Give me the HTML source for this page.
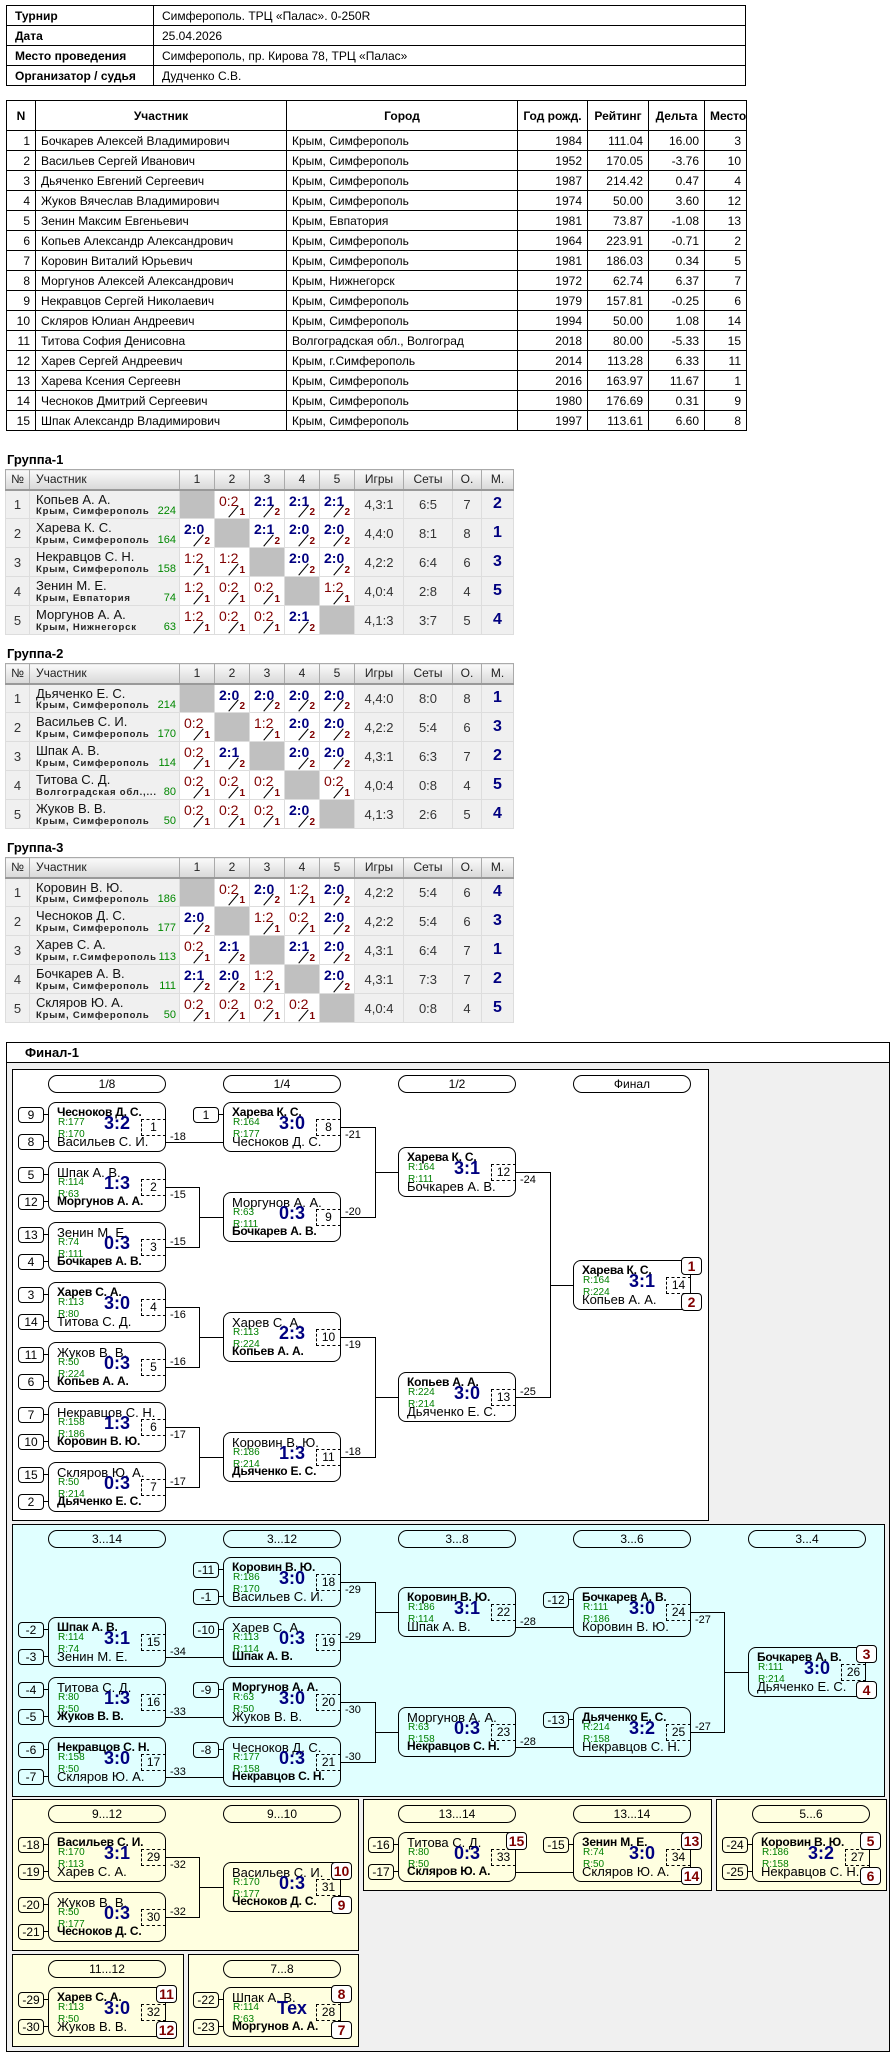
<!DOCTYPE html>
<html><head><meta charset="utf-8"><style>
*{box-sizing:border-box;margin:0;padding:0}
body{width:895px;height:2057px;position:relative;background:#fff;font-family:"Liberation Sans",sans-serif;color:#000;overflow:hidden}
table{border-collapse:collapse;position:absolute;table-layout:fixed}
.t1 td{border:1px solid #000;height:20px;font-size:12px;padding:0 8px;white-space:nowrap}
.t1 td:first-child{font-weight:bold;padding-left:8px}
.t2 td{border:1px solid #000;height:20px;font-size:12px;padding:0 5px;white-space:nowrap;overflow:hidden}
.t2 tr:first-child td{height:30px;font-weight:bold;text-align:center}
.t2 .rr{text-align:right}
.gt{position:absolute;left:7px;font:bold 13px "Liberation Sans",sans-serif}
.g{border:1px solid #999}
.g th{height:20px;font-weight:normal;font-size:12px;background:linear-gradient(#fafafa,#d8d8d8);border:1px solid #aaa;border-bottom:2px solid #999;text-align:center;color:#222}
.g td{height:29px;border:1px solid #ddd;background:#f0f0f0;font-size:13px;text-align:center;color:#333;position:relative}
.g td.nm{text-align:left;padding:0 0 0 6px;vertical-align:top}
.nm .n{display:block;font-size:13px;margin-top:1px;color:#111}
.nm .ct{position:absolute;left:6px;bottom:1px;font-size:9.5px;font-weight:bold;letter-spacing:0.8px;color:#222}
.nm .rt{position:absolute;right:3px;bottom:1px;font-size:11px;color:#080}
.g td.c{background:#fff;text-align:left;vertical-align:top}
.g td.x{background:#c0c0c0}
.c span{position:absolute;left:4px;top:2px;font-size:14px}
.c .W{color:#000080;font-weight:bold}
.c .L{color:#800000}
.c i{position:absolute;right:4px;bottom:0;font-style:normal;font-weight:bold;font-size:10px;color:#800000}
.c i::before{content:"";position:absolute;left:-13px;bottom:6px;width:15px;border-top:1px solid #000;transform:rotate(-50deg)}
.g td.pl{font-weight:bold;color:#000080;font-size:16px}
.box{position:absolute;border:1px solid #000}
.p{position:absolute;width:118px;height:18px;border:1px solid #000;border-radius:9px;text-align:center;font-size:12px;line-height:16px;background:transparent}
.m{position:absolute;width:118px;height:50px;border:1px solid #000;border-radius:8px;font-size:13px}
.m div{position:absolute;white-space:nowrap}
.m .a{left:8px;top:2px}
.m .b{left:8px;top:31px}
.m .w{font-weight:bold;font-size:12px;letter-spacing:-0.2px}
.m .r1,.m .r2{left:9px;font-size:10px;color:#008000}
.m .r1{top:14px}.m .r2{top:26px}
.m .s{left:52px;top:10px;width:32px;text-align:center;font:bold 18px "Liberation Sans",sans-serif;color:#000080}
.m .i{left:92px;top:16px;width:25px;height:17px;border:1px dashed #000;text-align:center;font-size:12px;line-height:15px}
.sd{position:absolute;width:26px;height:16px;border:1px solid #000;border-radius:4px;text-align:center;font-size:12px;line-height:14px;background:transparent}
.sd::after{content:"";position:absolute;right:-5px;top:6px;width:4px;border-top:1px solid #000}
.pc{position:absolute;width:21px;height:18px;border:1px solid #000;border-radius:4px;background:#fff;color:#800000;text-align:center;font:bold 14px "Liberation Sans",sans-serif;line-height:16px}
.l{position:absolute;font-size:11px}
</style></head><body>

<table class="t1" style="left:6px;top:5px;width:740px">
<col style="width:147px"><col>
<tr><td>Турнир</td><td>Симферополь. ТРЦ «Палас». 0-250R</td></tr>
<tr><td>Дата</td><td>25.04.2026</td></tr>
<tr><td>Место проведения</td><td>Симферополь, пр. Кирова 78, ТРЦ «Палас»</td></tr>
<tr><td>Организатор / судья</td><td>Дудченко С.В.</td></tr>
</table>

<table class="t2" style="left:6px;top:100px;width:740px">
<col style="width:29px"><col style="width:251px"><col style="width:231px"><col style="width:70px"><col style="width:61px"><col style="width:56px"><col style="width:42px">
<tr><td>N</td><td>Участник</td><td>Город</td><td>Год рожд.</td><td>Рейтинг</td><td>Дельта</td><td>Место</td></tr>
<tr><td class="rr">1</td><td>Бочкарев Алексей Владимирович</td><td>Крым, Симферополь</td><td class="rr">1984</td><td class="rr">111.04</td><td class="rr">16.00</td><td class="rr">3</td></tr>
<tr><td class="rr">2</td><td>Васильев Сергей Иванович</td><td>Крым, Симферополь</td><td class="rr">1952</td><td class="rr">170.05</td><td class="rr">-3.76</td><td class="rr">10</td></tr>
<tr><td class="rr">3</td><td>Дьяченко Евгений Сергеевич</td><td>Крым, Симферополь</td><td class="rr">1987</td><td class="rr">214.42</td><td class="rr">0.47</td><td class="rr">4</td></tr>
<tr><td class="rr">4</td><td>Жуков Вячеслав Владимирович</td><td>Крым, Симферополь</td><td class="rr">1974</td><td class="rr">50.00</td><td class="rr">3.60</td><td class="rr">12</td></tr>
<tr><td class="rr">5</td><td>Зенин Максим Евгеньевич</td><td>Крым, Евпатория</td><td class="rr">1981</td><td class="rr">73.87</td><td class="rr">-1.08</td><td class="rr">13</td></tr>
<tr><td class="rr">6</td><td>Копьев Александр Александрович</td><td>Крым, Симферополь</td><td class="rr">1964</td><td class="rr">223.91</td><td class="rr">-0.71</td><td class="rr">2</td></tr>
<tr><td class="rr">7</td><td>Коровин Виталий Юрьевич</td><td>Крым, Симферополь</td><td class="rr">1981</td><td class="rr">186.03</td><td class="rr">0.34</td><td class="rr">5</td></tr>
<tr><td class="rr">8</td><td>Моргунов Алексей Александрович</td><td>Крым, Нижнегорск</td><td class="rr">1972</td><td class="rr">62.74</td><td class="rr">6.37</td><td class="rr">7</td></tr>
<tr><td class="rr">9</td><td>Некравцов Сергей Николаевич</td><td>Крым, Симферополь</td><td class="rr">1979</td><td class="rr">157.81</td><td class="rr">-0.25</td><td class="rr">6</td></tr>
<tr><td class="rr">10</td><td>Скляров Юлиан Андреевич</td><td>Крым, Симферополь</td><td class="rr">1994</td><td class="rr">50.00</td><td class="rr">1.08</td><td class="rr">14</td></tr>
<tr><td class="rr">11</td><td>Титова София Денисовна</td><td>Волгоградская обл., Волгоград</td><td class="rr">2018</td><td class="rr">80.00</td><td class="rr">-5.33</td><td class="rr">15</td></tr>
<tr><td class="rr">12</td><td>Харев Сергей Андреевич</td><td>Крым, г.Симферополь</td><td class="rr">2014</td><td class="rr">113.28</td><td class="rr">6.33</td><td class="rr">11</td></tr>
<tr><td class="rr">13</td><td>Харева Ксения Сергеевн</td><td>Крым, Симферополь</td><td class="rr">2016</td><td class="rr">163.97</td><td class="rr">11.67</td><td class="rr">1</td></tr>
<tr><td class="rr">14</td><td>Чесноков Дмитрий Сергеевич</td><td>Крым, Симферополь</td><td class="rr">1980</td><td class="rr">176.69</td><td class="rr">0.31</td><td class="rr">9</td></tr>
<tr><td class="rr">15</td><td>Шпак Александр Владимирович</td><td>Крым, Симферополь</td><td class="rr">1997</td><td class="rr">113.61</td><td class="rr">6.60</td><td class="rr">8</td></tr>
</table>

<div class="gt" style="top:452px">Группа-1</div>
<table class="g" style="left:5px;top:469px;width:508px">
<col style="width:24px"><col style="width:150px"><col style="width:35px"><col style="width:35px"><col style="width:35px"><col style="width:35px"><col style="width:35px"><col style="width:49px"><col style="width:49px"><col style="width:29px"><col style="width:32px">
<tr><th>№</th><th style="text-align:left;padding-left:6px">Участник</th><th>1</th><th>2</th><th>3</th><th>4</th><th>5</th><th>Игры</th><th>Сеты</th><th>О.</th><th>М.</th></tr>
<tr><td>1</td><td class="nm"><span class="n">Копьев А. А.</span><span class="ct">Крым, Симферополь</span><span class="rt">224</span></td><td class="x"></td><td class="c"><span class="L">0:2</span><i>1</i></td><td class="c"><span class="W">2:1</span><i>2</i></td><td class="c"><span class="W">2:1</span><i>2</i></td><td class="c"><span class="W">2:1</span><i>2</i></td><td>4,3:1</td><td>6:5</td><td>7</td><td class="pl">2</td></tr>
<tr><td>2</td><td class="nm"><span class="n">Харева К. С.</span><span class="ct">Крым, Симферополь</span><span class="rt">164</span></td><td class="c"><span class="W">2:0</span><i>2</i></td><td class="x"></td><td class="c"><span class="W">2:1</span><i>2</i></td><td class="c"><span class="W">2:0</span><i>2</i></td><td class="c"><span class="W">2:0</span><i>2</i></td><td>4,4:0</td><td>8:1</td><td>8</td><td class="pl">1</td></tr>
<tr><td>3</td><td class="nm"><span class="n">Некравцов С. Н.</span><span class="ct">Крым, Симферополь</span><span class="rt">158</span></td><td class="c"><span class="L">1:2</span><i>1</i></td><td class="c"><span class="L">1:2</span><i>1</i></td><td class="x"></td><td class="c"><span class="W">2:0</span><i>2</i></td><td class="c"><span class="W">2:0</span><i>2</i></td><td>4,2:2</td><td>6:4</td><td>6</td><td class="pl">3</td></tr>
<tr><td>4</td><td class="nm"><span class="n">Зенин М. Е.</span><span class="ct">Крым, Евпатория</span><span class="rt">74</span></td><td class="c"><span class="L">1:2</span><i>1</i></td><td class="c"><span class="L">0:2</span><i>1</i></td><td class="c"><span class="L">0:2</span><i>1</i></td><td class="x"></td><td class="c"><span class="L">1:2</span><i>1</i></td><td>4,0:4</td><td>2:8</td><td>4</td><td class="pl">5</td></tr>
<tr><td>5</td><td class="nm"><span class="n">Моргунов А. А.</span><span class="ct">Крым, Нижнегорск</span><span class="rt">63</span></td><td class="c"><span class="L">1:2</span><i>1</i></td><td class="c"><span class="L">0:2</span><i>1</i></td><td class="c"><span class="L">0:2</span><i>1</i></td><td class="c"><span class="W">2:1</span><i>2</i></td><td class="x"></td><td>4,1:3</td><td>3:7</td><td>5</td><td class="pl">4</td></tr>
</table>

<div class="gt" style="top:646px">Группа-2</div>
<table class="g" style="left:5px;top:663px;width:508px">
<col style="width:24px"><col style="width:150px"><col style="width:35px"><col style="width:35px"><col style="width:35px"><col style="width:35px"><col style="width:35px"><col style="width:49px"><col style="width:49px"><col style="width:29px"><col style="width:32px">
<tr><th>№</th><th style="text-align:left;padding-left:6px">Участник</th><th>1</th><th>2</th><th>3</th><th>4</th><th>5</th><th>Игры</th><th>Сеты</th><th>О.</th><th>М.</th></tr>
<tr><td>1</td><td class="nm"><span class="n">Дьяченко Е. С.</span><span class="ct">Крым, Симферополь</span><span class="rt">214</span></td><td class="x"></td><td class="c"><span class="W">2:0</span><i>2</i></td><td class="c"><span class="W">2:0</span><i>2</i></td><td class="c"><span class="W">2:0</span><i>2</i></td><td class="c"><span class="W">2:0</span><i>2</i></td><td>4,4:0</td><td>8:0</td><td>8</td><td class="pl">1</td></tr>
<tr><td>2</td><td class="nm"><span class="n">Васильев С. И.</span><span class="ct">Крым, Симферополь</span><span class="rt">170</span></td><td class="c"><span class="L">0:2</span><i>1</i></td><td class="x"></td><td class="c"><span class="L">1:2</span><i>1</i></td><td class="c"><span class="W">2:0</span><i>2</i></td><td class="c"><span class="W">2:0</span><i>2</i></td><td>4,2:2</td><td>5:4</td><td>6</td><td class="pl">3</td></tr>
<tr><td>3</td><td class="nm"><span class="n">Шпак А. В.</span><span class="ct">Крым, Симферополь</span><span class="rt">114</span></td><td class="c"><span class="L">0:2</span><i>1</i></td><td class="c"><span class="W">2:1</span><i>2</i></td><td class="x"></td><td class="c"><span class="W">2:0</span><i>2</i></td><td class="c"><span class="W">2:0</span><i>2</i></td><td>4,3:1</td><td>6:3</td><td>7</td><td class="pl">2</td></tr>
<tr><td>4</td><td class="nm"><span class="n">Титова С. Д.</span><span class="ct">Волгоградская обл.,...</span><span class="rt">80</span></td><td class="c"><span class="L">0:2</span><i>1</i></td><td class="c"><span class="L">0:2</span><i>1</i></td><td class="c"><span class="L">0:2</span><i>1</i></td><td class="x"></td><td class="c"><span class="L">0:2</span><i>1</i></td><td>4,0:4</td><td>0:8</td><td>4</td><td class="pl">5</td></tr>
<tr><td>5</td><td class="nm"><span class="n">Жуков В. В.</span><span class="ct">Крым, Симферополь</span><span class="rt">50</span></td><td class="c"><span class="L">0:2</span><i>1</i></td><td class="c"><span class="L">0:2</span><i>1</i></td><td class="c"><span class="L">0:2</span><i>1</i></td><td class="c"><span class="W">2:0</span><i>2</i></td><td class="x"></td><td>4,1:3</td><td>2:6</td><td>5</td><td class="pl">4</td></tr>
</table>

<div class="gt" style="top:840px">Группа-3</div>
<table class="g" style="left:5px;top:857px;width:508px">
<col style="width:24px"><col style="width:150px"><col style="width:35px"><col style="width:35px"><col style="width:35px"><col style="width:35px"><col style="width:35px"><col style="width:49px"><col style="width:49px"><col style="width:29px"><col style="width:32px">
<tr><th>№</th><th style="text-align:left;padding-left:6px">Участник</th><th>1</th><th>2</th><th>3</th><th>4</th><th>5</th><th>Игры</th><th>Сеты</th><th>О.</th><th>М.</th></tr>
<tr><td>1</td><td class="nm"><span class="n">Коровин В. Ю.</span><span class="ct">Крым, Симферополь</span><span class="rt">186</span></td><td class="x"></td><td class="c"><span class="L">0:2</span><i>1</i></td><td class="c"><span class="W">2:0</span><i>2</i></td><td class="c"><span class="L">1:2</span><i>1</i></td><td class="c"><span class="W">2:0</span><i>2</i></td><td>4,2:2</td><td>5:4</td><td>6</td><td class="pl">4</td></tr>
<tr><td>2</td><td class="nm"><span class="n">Чесноков Д. С.</span><span class="ct">Крым, Симферополь</span><span class="rt">177</span></td><td class="c"><span class="W">2:0</span><i>2</i></td><td class="x"></td><td class="c"><span class="L">1:2</span><i>1</i></td><td class="c"><span class="L">0:2</span><i>1</i></td><td class="c"><span class="W">2:0</span><i>2</i></td><td>4,2:2</td><td>5:4</td><td>6</td><td class="pl">3</td></tr>
<tr><td>3</td><td class="nm"><span class="n">Харев С. А.</span><span class="ct">Крым, г.Симферополь</span><span class="rt">113</span></td><td class="c"><span class="L">0:2</span><i>1</i></td><td class="c"><span class="W">2:1</span><i>2</i></td><td class="x"></td><td class="c"><span class="W">2:1</span><i>2</i></td><td class="c"><span class="W">2:0</span><i>2</i></td><td>4,3:1</td><td>6:4</td><td>7</td><td class="pl">1</td></tr>
<tr><td>4</td><td class="nm"><span class="n">Бочкарев А. В.</span><span class="ct">Крым, Симферополь</span><span class="rt">111</span></td><td class="c"><span class="W">2:1</span><i>2</i></td><td class="c"><span class="W">2:0</span><i>2</i></td><td class="c"><span class="L">1:2</span><i>1</i></td><td class="x"></td><td class="c"><span class="W">2:0</span><i>2</i></td><td>4,3:1</td><td>7:3</td><td>7</td><td class="pl">2</td></tr>
<tr><td>5</td><td class="nm"><span class="n">Скляров Ю. А.</span><span class="ct">Крым, Симферополь</span><span class="rt">50</span></td><td class="c"><span class="L">0:2</span><i>1</i></td><td class="c"><span class="L">0:2</span><i>1</i></td><td class="c"><span class="L">0:2</span><i>1</i></td><td class="c"><span class="L">0:2</span><i>1</i></td><td class="x"></td><td>4,0:4</td><td>0:8</td><td>4</td><td class="pl">5</td></tr>
</table>

<!-- Final -->
<div class="box" style="left:6px;top:1042px;width:884px;height:1010px;background:#f0f0f0"></div>
<div class="box" style="left:6px;top:1042px;width:884px;height:21px;background:#fff"></div>
<div style="position:absolute;left:25px;top:1045px;font:bold 13px 'Liberation Sans',sans-serif">Финал-1</div>

<div class="box" style="left:12px;top:1069px;width:697px;height:452px;background:#fff"></div>
<div class="box" style="left:12px;top:1524px;width:873px;height:273px;background:#e0ffff"></div>
<div class="box" style="left:12px;top:1799px;width:347px;height:152px;background:#ffffe0"></div>
<div class="box" style="left:363px;top:1799px;width:349px;height:92px;background:#ffffe0"></div>
<div class="box" style="left:716px;top:1799px;width:171px;height:92px;background:#ffffe0"></div>
<div class="box" style="left:12px;top:1954px;width:172px;height:93px;background:#ffffe0"></div>
<div class="box" style="left:188px;top:1954px;width:171px;height:93px;background:#ffffe0"></div>

<div class="p" style="left:48px;top:1075px">1/8</div>
<div class="p" style="left:223px;top:1075px">1/4</div>
<div class="p" style="left:398px;top:1075px">1/2</div>
<div class="p" style="left:573px;top:1075px">Финал</div>
<div class="p" style="left:48px;top:1530px">3...14</div>
<div class="p" style="left:223px;top:1530px">3...12</div>
<div class="p" style="left:398px;top:1530px">3...8</div>
<div class="p" style="left:573px;top:1530px">3...6</div>
<div class="p" style="left:748px;top:1530px">3...4</div>
<div class="p" style="left:48px;top:1805px">9...12</div>
<div class="p" style="left:223px;top:1805px">9...10</div>
<div class="p" style="left:398px;top:1805px">13...14</div>
<div class="p" style="left:573px;top:1805px">13...14</div>
<div class="p" style="left:752px;top:1805px">5...6</div>
<div class="p" style="left:48px;top:1960px">11...12</div>
<div class="p" style="left:223px;top:1960px">7...8</div>

<svg style="position:absolute;left:0;top:0" width="895" height="2057" shape-rendering="crispEdges"><path fill="none" stroke="#000" stroke-width="1" d="
M166 1142.5H223
M166 1187.5H199.5V1247.5H166 M199.5 1217.5H223
M166 1307.5H199.5V1367.5H166 M199.5 1337.5H223
M166 1427.5H199.5V1487.5H166 M199.5 1457.5H223
M341 1127.5H375.5V1217.5H341 M375.5 1172.5H398
M341 1337.5H375.5V1457.5H341 M375.5 1397.5H398
M516 1172.5H550.5V1397.5H516 M550.5 1285.5H573
M166 1657.5H223 M166 1717.5H223 M166 1777.5H223
M341 1582.5H375.5V1642.5H341 M375.5 1612.5H398
M341 1702.5H375.5V1762.5H341 M375.5 1732.5H398
M516 1627.5H573 M516 1747.5H573
M691 1612.5H724.5V1732.5H691 M724.5 1672.5H748
M166 1857.5H199.5V1917.5H166 M199.5 1887.5H223
M516 1872.5H573
M690.5 1275V1293 M865.5 1662V1682 M340.5 1877V1897 M690.5 1847V1867 M515.5 1847V1867 M869.5 1847V1867 M165.5 2002V2022 M340.5 2002V2022
"/></svg>

<!-- seeds panel1 -->
<div class="sd" style="left:18px;top:1107px">9</div><div class="sd" style="left:18px;top:1134px">8</div>
<div class="sd" style="left:18px;top:1167px">5</div><div class="sd" style="left:18px;top:1194px">12</div>
<div class="sd" style="left:18px;top:1227px">13</div><div class="sd" style="left:18px;top:1254px">4</div>
<div class="sd" style="left:18px;top:1287px">3</div><div class="sd" style="left:18px;top:1314px">14</div>
<div class="sd" style="left:18px;top:1347px">11</div><div class="sd" style="left:18px;top:1374px">6</div>
<div class="sd" style="left:18px;top:1407px">7</div><div class="sd" style="left:18px;top:1434px">10</div>
<div class="sd" style="left:18px;top:1467px">15</div><div class="sd" style="left:18px;top:1494px">2</div>
<div class="sd" style="left:193px;top:1107px">1</div>

<!-- 1/8 -->
<div class="m" style="left:48px;top:1102px"><div class="a w">Чесноков Д. С.</div><div class="r1">R:177</div><div class="r2">R:170</div><div class="s">3:2</div><div class="i">1</div><div class="b">Васильев С. И.</div></div>
<div class="m" style="left:48px;top:1162px"><div class="a">Шпак А. В.</div><div class="r1">R:114</div><div class="r2">R:63</div><div class="s">1:3</div><div class="i">2</div><div class="b w">Моргунов А. А.</div></div>
<div class="m" style="left:48px;top:1222px"><div class="a">Зенин М. Е.</div><div class="r1">R:74</div><div class="r2">R:111</div><div class="s">0:3</div><div class="i">3</div><div class="b w">Бочкарев А. В.</div></div>
<div class="m" style="left:48px;top:1282px"><div class="a w">Харев С. А.</div><div class="r1">R:113</div><div class="r2">R:80</div><div class="s">3:0</div><div class="i">4</div><div class="b">Титова С. Д.</div></div>
<div class="m" style="left:48px;top:1342px"><div class="a">Жуков В. В.</div><div class="r1">R:50</div><div class="r2">R:224</div><div class="s">0:3</div><div class="i">5</div><div class="b w">Копьев А. А.</div></div>
<div class="m" style="left:48px;top:1402px"><div class="a">Некравцов С. Н.</div><div class="r1">R:158</div><div class="r2">R:186</div><div class="s">1:3</div><div class="i">6</div><div class="b w">Коровин В. Ю.</div></div>
<div class="m" style="left:48px;top:1462px"><div class="a">Скляров Ю. А.</div><div class="r1">R:50</div><div class="r2">R:214</div><div class="s">0:3</div><div class="i">7</div><div class="b w">Дьяченко Е. С.</div></div>
<!-- 1/4 -->
<div class="m" style="left:223px;top:1102px"><div class="a w">Харева К. С.</div><div class="r1">R:164</div><div class="r2">R:177</div><div class="s">3:0</div><div class="i">8</div><div class="b">Чесноков Д. С.</div></div>
<div class="m" style="left:223px;top:1192px"><div class="a">Моргунов А. А.</div><div class="r1">R:63</div><div class="r2">R:111</div><div class="s">0:3</div><div class="i">9</div><div class="b w">Бочкарев А. В.</div></div>
<div class="m" style="left:223px;top:1312px"><div class="a">Харев С. А.</div><div class="r1">R:113</div><div class="r2">R:224</div><div class="s">2:3</div><div class="i">10</div><div class="b w">Копьев А. А.</div></div>
<div class="m" style="left:223px;top:1432px"><div class="a">Коровин В. Ю.</div><div class="r1">R:186</div><div class="r2">R:214</div><div class="s">1:3</div><div class="i">11</div><div class="b w">Дьяченко Е. С.</div></div>
<!-- 1/2 -->
<div class="m" style="left:398px;top:1147px"><div class="a w">Харева К. С.</div><div class="r1">R:164</div><div class="r2">R:111</div><div class="s">3:1</div><div class="i">12</div><div class="b">Бочкарев А. В.</div></div>
<div class="m" style="left:398px;top:1372px"><div class="a w">Копьев А. А.</div><div class="r1">R:224</div><div class="r2">R:214</div><div class="s">3:0</div><div class="i">13</div><div class="b">Дьяченко Е. С.</div></div>
<!-- final -->
<div class="m" style="left:573px;top:1260px"><div class="a w">Харева К. С.</div><div class="r1">R:164</div><div class="r2">R:224</div><div class="s">3:1</div><div class="i">14</div><div class="b">Копьев А. А.</div></div>
<div class="pc" style="left:681px;top:1257px">1</div><div class="pc" style="left:681px;top:1293px">2</div>

<!-- loser labels panel1 -->
<div class="l" style="left:170px;top:1131px">-18</div>
<div class="l" style="left:170px;top:1189px">-15</div><div class="l" style="left:170px;top:1236px">-15</div>
<div class="l" style="left:170px;top:1309px">-16</div><div class="l" style="left:170px;top:1356px">-16</div>
<div class="l" style="left:170px;top:1429px">-17</div><div class="l" style="left:170px;top:1476px">-17</div>
<div class="l" style="left:345px;top:1129px">-21</div><div class="l" style="left:345px;top:1206px">-20</div>
<div class="l" style="left:345px;top:1339px">-19</div><div class="l" style="left:345px;top:1446px">-18</div>
<div class="l" style="left:520px;top:1174px">-24</div><div class="l" style="left:520px;top:1386px">-25</div>

<!-- panel2 seeds -->
<div class="sd" style="left:18px;top:1622px">-2</div><div class="sd" style="left:18px;top:1649px">-3</div>
<div class="sd" style="left:18px;top:1682px">-4</div><div class="sd" style="left:18px;top:1709px">-5</div>
<div class="sd" style="left:18px;top:1742px">-6</div><div class="sd" style="left:18px;top:1769px">-7</div>
<div class="sd" style="left:193px;top:1562px">-11</div><div class="sd" style="left:193px;top:1589px">-1</div>
<div class="sd" style="left:193px;top:1622px">-10</div>
<div class="sd" style="left:193px;top:1682px">-9</div>
<div class="sd" style="left:193px;top:1742px">-8</div>
<div class="sd" style="left:543px;top:1592px">-12</div>
<div class="sd" style="left:543px;top:1712px">-13</div>

<div class="m" style="left:48px;top:1617px"><div class="a w">Шпак А. В.</div><div class="r1">R:114</div><div class="r2">R:74</div><div class="s">3:1</div><div class="i">15</div><div class="b">Зенин М. Е.</div></div>
<div class="m" style="left:48px;top:1677px"><div class="a">Титова С. Д.</div><div class="r1">R:80</div><div class="r2">R:50</div><div class="s">1:3</div><div class="i">16</div><div class="b w">Жуков В. В.</div></div>
<div class="m" style="left:48px;top:1737px"><div class="a w">Некравцов С. Н.</div><div class="r1">R:158</div><div class="r2">R:50</div><div class="s">3:0</div><div class="i">17</div><div class="b">Скляров Ю. А.</div></div>
<div class="m" style="left:223px;top:1557px"><div class="a w">Коровин В. Ю.</div><div class="r1">R:186</div><div class="r2">R:170</div><div class="s">3:0</div><div class="i">18</div><div class="b">Васильев С. И.</div></div>
<div class="m" style="left:223px;top:1617px"><div class="a">Харев С. А.</div><div class="r1">R:113</div><div class="r2">R:114</div><div class="s">0:3</div><div class="i">19</div><div class="b w">Шпак А. В.</div></div>
<div class="m" style="left:223px;top:1677px"><div class="a w">Моргунов А. А.</div><div class="r1">R:63</div><div class="r2">R:50</div><div class="s">3:0</div><div class="i">20</div><div class="b">Жуков В. В.</div></div>
<div class="m" style="left:223px;top:1737px"><div class="a">Чесноков Д. С.</div><div class="r1">R:177</div><div class="r2">R:158</div><div class="s">0:3</div><div class="i">21</div><div class="b w">Некравцов С. Н.</div></div>
<div class="m" style="left:398px;top:1587px"><div class="a w">Коровин В. Ю.</div><div class="r1">R:186</div><div class="r2">R:114</div><div class="s">3:1</div><div class="i">22</div><div class="b">Шпак А. В.</div></div>
<div class="m" style="left:398px;top:1707px"><div class="a">Моргунов А. А.</div><div class="r1">R:63</div><div class="r2">R:158</div><div class="s">0:3</div><div class="i">23</div><div class="b w">Некравцов С. Н.</div></div>
<div class="m" style="left:573px;top:1587px"><div class="a w">Бочкарев А. В.</div><div class="r1">R:111</div><div class="r2">R:186</div><div class="s">3:0</div><div class="i">24</div><div class="b">Коровин В. Ю.</div></div>
<div class="m" style="left:573px;top:1707px"><div class="a w">Дьяченко Е. С.</div><div class="r1">R:214</div><div class="r2">R:158</div><div class="s">3:2</div><div class="i">25</div><div class="b">Некравцов С. Н.</div></div>
<div class="m" style="left:748px;top:1647px"><div class="a w">Бочкарев А. В.</div><div class="r1">R:111</div><div class="r2">R:214</div><div class="s">3:0</div><div class="i">26</div><div class="b">Дьяченко Е. С.</div></div>
<div class="pc" style="left:856px;top:1645px">3</div><div class="pc" style="left:856px;top:1681px">4</div>

<div class="l" style="left:170px;top:1646px">-34</div>
<div class="l" style="left:170px;top:1706px">-33</div>
<div class="l" style="left:170px;top:1766px">-33</div>
<div class="l" style="left:345px;top:1584px">-29</div><div class="l" style="left:345px;top:1631px">-29</div>
<div class="l" style="left:345px;top:1704px">-30</div><div class="l" style="left:345px;top:1751px">-30</div>
<div class="l" style="left:520px;top:1616px">-28</div><div class="l" style="left:520px;top:1736px">-28</div>
<div class="l" style="left:695px;top:1614px">-27</div><div class="l" style="left:695px;top:1721px">-27</div>

<!-- bottom panels -->
<div class="sd" style="left:18px;top:1837px">-18</div><div class="sd" style="left:18px;top:1864px">-19</div>
<div class="sd" style="left:18px;top:1897px">-20</div><div class="sd" style="left:18px;top:1924px">-21</div>
<div class="m" style="left:48px;top:1832px"><div class="a w">Васильев С. И.</div><div class="r1">R:170</div><div class="r2">R:113</div><div class="s">3:1</div><div class="i">29</div><div class="b">Харев С. А.</div></div>
<div class="m" style="left:48px;top:1892px"><div class="a">Жуков В. В.</div><div class="r1">R:50</div><div class="r2">R:177</div><div class="s">0:3</div><div class="i">30</div><div class="b w">Чесноков Д. С.</div></div>
<div class="m" style="left:223px;top:1862px"><div class="a">Васильев С. И.</div><div class="r1">R:170</div><div class="r2">R:177</div><div class="s">0:3</div><div class="i">31</div><div class="b w">Чесноков Д. С.</div></div>
<div class="pc" style="left:331px;top:1862px">10</div><div class="pc" style="left:331px;top:1896px">9</div>
<div class="l" style="left:170px;top:1859px">-32</div><div class="l" style="left:170px;top:1906px">-32</div>

<div class="sd" style="left:368px;top:1837px">-16</div><div class="sd" style="left:368px;top:1864px">-17</div>
<div class="m" style="left:398px;top:1832px"><div class="a">Титова С. Д.</div><div class="r1">R:80</div><div class="r2">R:50</div><div class="s">0:3</div><div class="i">33</div><div class="b w">Скляров Ю. А.</div></div>
<div class="pc" style="left:506px;top:1832px">15</div>
<div class="sd" style="left:543px;top:1837px">-15</div>
<div class="m" style="left:573px;top:1832px"><div class="a w">Зенин М. Е.</div><div class="r1">R:74</div><div class="r2">R:50</div><div class="s">3:0</div><div class="i">34</div><div class="b">Скляров Ю. А.</div></div>
<div class="pc" style="left:681px;top:1832px">13</div><div class="pc" style="left:681px;top:1867px">14</div>

<div class="sd" style="left:722px;top:1837px">-24</div><div class="sd" style="left:722px;top:1864px">-25</div>
<div class="m" style="left:752px;top:1832px"><div class="a w">Коровин В. Ю.</div><div class="r1">R:186</div><div class="r2">R:158</div><div class="s">3:2</div><div class="i">27</div><div class="b">Некравцов С. Н.</div></div>
<div class="pc" style="left:860px;top:1832px">5</div><div class="pc" style="left:860px;top:1867px">6</div>

<div class="sd" style="left:18px;top:1992px">-29</div><div class="sd" style="left:18px;top:2019px">-30</div>
<div class="m" style="left:48px;top:1987px"><div class="a w">Харев С. А.</div><div class="r1">R:113</div><div class="r2">R:50</div><div class="s">3:0</div><div class="i">32</div><div class="b">Жуков В. В.</div></div>
<div class="pc" style="left:156px;top:1985px">11</div><div class="pc" style="left:156px;top:2021px">12</div>

<div class="sd" style="left:193px;top:1992px">-22</div><div class="sd" style="left:193px;top:2019px">-23</div>
<div class="m" style="left:223px;top:1987px"><div class="a">Шпак А. В.</div><div class="r1">R:114</div><div class="r2">R:63</div><div class="s">Тех</div><div class="i">28</div><div class="b w">Моргунов А. А.</div></div>
<div class="pc" style="left:331px;top:1985px">8</div><div class="pc" style="left:331px;top:2021px">7</div>

</body></html>
